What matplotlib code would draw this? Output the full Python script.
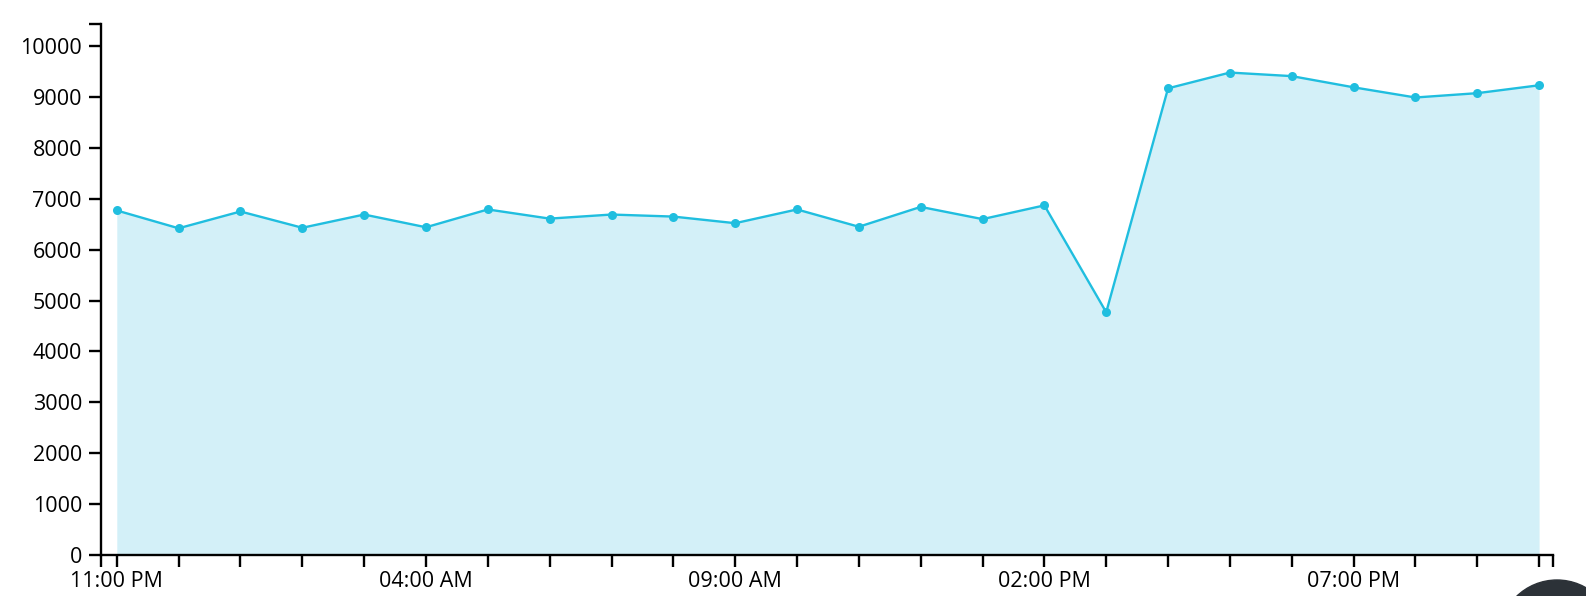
"""
Hourly count over one day, area chart with point markers.
"""

import matplotlib.pyplot as plt
from matplotlib.patches import Circle

# hourly buckets, 11:00 PM through 10:00 PM the next day
hour_labels = [
    '11:00 PM', '12:00 AM', '01:00 AM', '02:00 AM', '03:00 AM', '04:00 AM',
    '05:00 AM', '06:00 AM', '07:00 AM', '08:00 AM', '09:00 AM', '10:00 AM',
    '11:00 AM', '12:00 PM', '01:00 PM', '02:00 PM', '03:00 PM', '04:00 PM',
    '05:00 PM', '06:00 PM', '07:00 PM', '08:00 PM', '09:00 PM', '10:00 PM',
]
counts = [
    6770, 6420, 6750, 6430, 6690, 6440, 6790, 6610, 6690, 6650, 6520, 6790,
    6450, 6840, 6600, 6870, 4770, 9170, 9480, 9410, 9190, 8990, 9075, 9230,
]
y_ticks = [0, 1000, 2000, 3000, 4000, 5000, 6000, 7000, 8000, 9000, 10000]

LINE = '#20bedf'
FILL = '#d3f0f8'

plt.rcParams['font.family'] = ['Open Sans', 'DejaVu Sans']

fig = plt.figure(figsize=(15.86, 5.96), dpi=100)
ax = fig.add_axes([0.0635, 0.0688, 0.9155, 0.8904])

x = list(range(len(counts)))
ax.fill_between(x, 0, counts, color=FILL, linewidth=0)
ax.plot(x, counts, color=LINE, linewidth=1.7, marker='o', markersize=6.5,
        markeredgewidth=0)

# y domain padded 10% above the max, like the original
ax.set_ylim(0, max(counts) * 1.1)
ax.set_xlim(-0.26, len(counts) - 1 + 0.22)

ax.set_yticks(y_ticks)
ax.set_yticklabels([str(v) for v in y_ticks])
# outer end ticks of the axis line plus one tick per hour
ax.set_xticks([-0.26] + x + [len(counts) - 1 + 0.22])
ax.set_xticklabels([''] + [lab if i % 5 == 0 else '' for i, lab in enumerate(hour_labels)] + [''])
ax.set_yticks([max(counts) * 1.1], minor=True)

for side in ('top', 'right'):
    ax.spines[side].set_visible(False)
for side in ('left', 'bottom'):
    ax.spines[side].set_linewidth(1.7)
    ax.spines[side].set_color('black')

ax.tick_params(axis='both', which='both', length=8.5, width=1.7, colors='black',
               labelsize=15.5)
ax.tick_params(axis='y', pad=5)
ax.tick_params(axis='x', pad=3)

# dark round widget peeking in at the bottom right of the screenshot
fig.patches.append(Circle((1557, -42), 58, transform=None,
                          color='#2c3238', zorder=10))

fig.savefig('out.png', dpi=100)
